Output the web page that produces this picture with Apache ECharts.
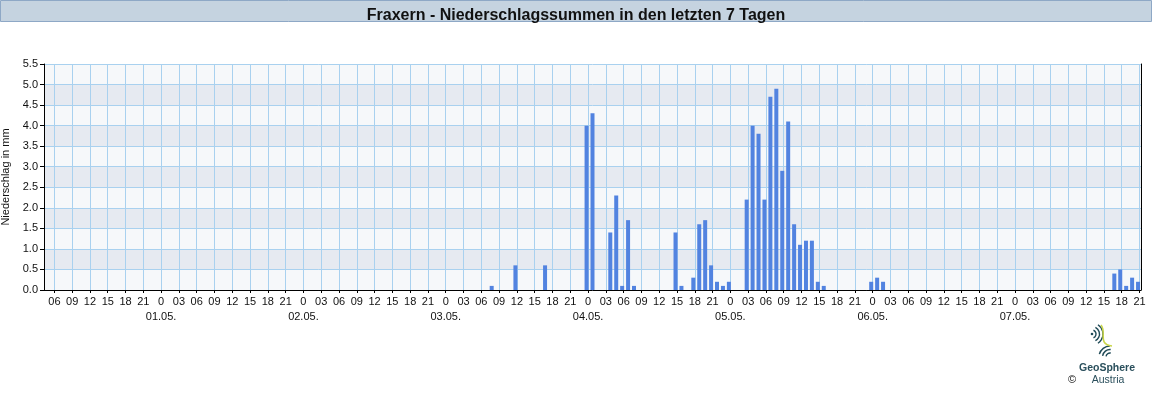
<!DOCTYPE html>
<html>
<head>
<meta charset="utf-8">
<script src="https://cdn.jsdelivr.net/npm/echarts@6/dist/echarts.min.js"></script>
<style>
html,body{margin:0;padding:0;background:#fff;}
#chart{width:1152px;height:400px;}
</style>
</head>
<body>
<div id="chart"></div>
<script>
// Day labels (index = days since 30.04. 00:00)
const dayLabels = ['30.04.', '01.05.', '02.05.', '03.05.', '04.05.', '05.05.', '06.05.', '07.05.'];
// Hourly precipitation: hour index counted from 30.04. 00:00, value in mm
const rainHours = [80, 84, 89, 96, 97, 100, 101, 102, 103, 104, 111, 112, 114, 115, 116, 117, 118, 119, 120,
  123, 124, 125, 126, 127, 128, 129, 130, 131, 132, 133, 134, 135, 136, 144, 145, 146, 185, 186, 187, 188, 189];
const rainMm = [0.1, 0.6, 0.6, 4.0, 4.3, 1.4, 2.3, 0.1, 1.7, 0.1, 1.4, 0.1, 0.3, 1.6, 1.7, 0.6, 0.2, 0.1, 0.2,
  2.2, 4.0, 3.8, 2.2, 4.7, 4.9, 2.9, 4.1, 1.6, 1.1, 1.2, 1.2, 0.2, 0.1, 0.2, 0.3, 0.2, 0.4, 0.5, 0.1, 0.3, 0.2];
// x-axis tick positions: every 3 hours from 30.04. 06:00 to 07.05. 21:00
const firstTick = 6, lastTick = 189, tickStep = 3;
const tickHours = [];
for (let t = firstTick; t <= lastTick; t += tickStep) tickHours.push(t);

const chart = echarts.init(document.getElementById('chart'), null, {renderer: 'canvas'});
const font = 'Liberation Sans, Arial, sans-serif';
const teal = '#1f4a57';
const gridBlue = '#a9d1ef';
const barColor = '#5283e0';
const barPx = 4;

function arc(cx, cy, r, a0, a1, color) {
  return {type: 'arc', shape: {cx: cx, cy: cy, r: r, startAngle: a0, endAngle: a1},
    style: {stroke: color || teal, lineWidth: 1.4, fill: null}};
}

chart.setOption({
  animation: false,
  title: {
    text: 'Fraxern - Niederschlagssummen in den letzten 7 Tagen',
    left: 'center', top: 3,
    textStyle: {fontFamily: 'Liberation Sans Narrow, Liberation Sans, Arial', fontWeight: 'bold', fontSize: 16, color: '#111'}
  },
  graphic: [
    {type: 'rect', z: -1, shape: {x: 0.5, y: 0.5, width: 1151, height: 21}, style: {fill: '#c5d3e0', stroke: '#8ea8c6', lineWidth: 1}},
    // GeoSphere logo (approximation)
    {type: 'circle', shape: {cx: 1092, cy: 334, r: 1.3}, style: {fill: teal}},
    arc(1092, 334, 4, -1.2, 1.2),
    arc(1092, 334, 7.5, -1.1, 1.1),
    arc(1092, 334, 11, -1.0, 1.0),
    arc(1110, 357, 4, 3.3, 4.9),
    arc(1110, 357, 7.5, 3.3, 4.8),
    arc(1110, 357, 11, 3.4, 4.7),
    {type: 'bezierCurve', shape: {x1: 1101, y1: 325, x2: 1112, y2: 346, cpx1: 1107, cpy1: 332, cpx2: 1097, cpy2: 344}, style: {stroke: '#c9d64a', lineWidth: 1.6, fill: null}},
    {type: 'text', style: {x: 1107, y: 368, text: 'GeoSphere', fontFamily: font, fontWeight: 'bold', fontSize: 10.5, fill: '#2a4f5c', align: 'center', verticalAlign: 'middle'}},
    {type: 'text', style: {x: 1108, y: 380, text: 'Austria', fontFamily: font, fontSize: 10.5, fill: '#2a4f5c', align: 'center', verticalAlign: 'middle'}},
    {type: 'text', style: {x: 1072, y: 380, text: '©', fontFamily: font, fontSize: 11, fill: '#111', align: 'center', verticalAlign: 'middle'}}
  ],
  grid: {left: 44, right: 11, top: 64, bottom: 110, containLabel: false, outerBoundsMode: 'none'},
  xAxis: {
    type: 'value',
    min: 4.25, max: 189.25, interval: 0.25,
    axisLine: {show: true, lineStyle: {color: '#000', width: 1}},
    axisTick: {show: true, length: 3, customValues: tickHours, lineStyle: {color: '#000'}},
    axisLabel: {
      customValues: tickHours, margin: 4,
      fontFamily: font, fontSize: 11, color: '#111', lineHeight: 15,
      formatter: function (v) {
        const t = Math.round(v);
        const h = t % 24;
        const d = Math.floor(t / 24);
        if (h === 0) return '0\n' + dayLabels[d];
        return (h < 10 ? '0' : '') + h;
      }
    },
    splitLine: {show: false}
  },
  yAxis: [{
    type: 'value', min: 0, max: 5.5, interval: 0.5,
    name: 'Niederschlag in mm', nameLocation: 'middle', nameGap: 24, nameRotate: 90,
    nameTextStyle: {fontFamily: font, fontSize: 11, color: '#111'},
    axisLine: {show: true, lineStyle: {color: '#000'}},
    axisTick: {show: true, length: 4, lineStyle: {color: '#000'}},
    axisLabel: {fontFamily: font, fontSize: 11, color: '#111', margin: 6, formatter: v => v.toFixed(1)},
    splitLine: {show: true, lineStyle: {color: gridBlue, width: 1}},
    splitArea: {show: true, areaStyle: {color: ['#f6f8fa', '#e6eaf1']}}
  }, {
    type: 'value', min: 0, max: 5.5, interval: 0.5, position: 'right',
    axisLine: {show: true, lineStyle: {color: '#000'}},
    axisTick: {show: false}, axisLabel: {show: false}, splitLine: {show: false}
  }],
  series: [{
    type: 'custom',
    z: 2,
    encode: {x: 0, y: 1},
    data: rainHours.map((h, i) => [h - 0.25, rainMm[i]]),
    renderItem: function (params, api) {
      const topPt = api.coord([api.value(0), api.value(1)]);
      const basePt = api.coord([api.value(0), 0]);
      return {
        type: 'rect',
        shape: {x: topPt[0] - barPx / 2, y: topPt[1], width: barPx, height: basePt[1] - topPt[1]},
        style: {fill: barColor}
      };
    },
    // vertical grid lines at every 3-hour tick, placed through the x scale
    markLine: {
      z: 1, silent: true, symbol: 'none', animation: false,
      label: {show: false},
      lineStyle: {color: gridBlue, type: 'solid', width: 1},
      emphasis: {disabled: true},
      data: tickHours.map(t => ({xAxis: t}))
    }
  }]
});
</script>
</body>
</html>
